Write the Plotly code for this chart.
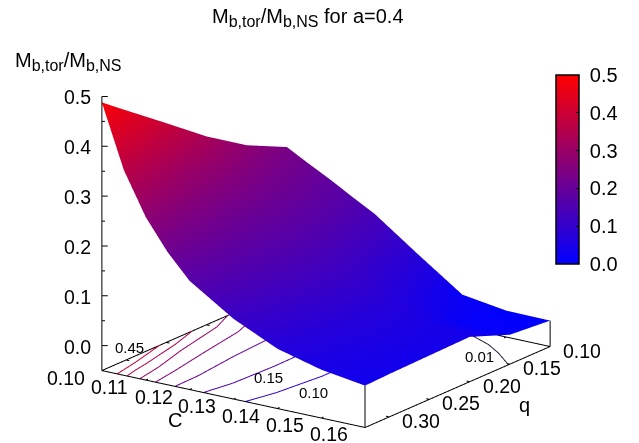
import plotly.graph_objects as go

C_VALUES = [0.10, 0.105, 0.11, 0.115, 0.12, 0.13, 0.14, 0.15, 0.16]
Q_VALUES = [0.33, 0.30, 0.25, 0.20, 0.15, 0.10]
# rows follow Q_VALUES, columns follow C_VALUES
Z_Q033 = [0.488, 0.362, 0.277, 0.216, 0.168, 0.111, 0.070, 0.047, 0.034]
Z_Q030 = [0.451, 0.336, 0.262, 0.211, 0.174, 0.119, 0.075, 0.050, 0.036]
Z_Q025 = [0.390, 0.293, 0.241, 0.201, 0.173, 0.125, 0.080, 0.055, 0.038]
Z_Q020 = [0.328, 0.268, 0.228, 0.196, 0.172, 0.124, 0.080, 0.050, 0.040]
Z_Q015 = [0.275, 0.238, 0.210, 0.187, 0.161, 0.101, 0.050, 0.012, 0.009]
Z_Q010 = [0.236, 0.212, 0.189, 0.164, 0.140, 0.077, 0.016, 0.003, 0.002]
Z_GRID = [Z_Q033, Z_Q030, Z_Q025, Z_Q020, Z_Q015, Z_Q010]

C_TICKS = [0.10, 0.11, 0.12, 0.13, 0.14, 0.15, 0.16]
Q_TICKS = [0.10, 0.15, 0.20, 0.25, 0.30]
Z_TICKS = [0.0, 0.1, 0.2, 0.3, 0.4, 0.5]
Z_MINOR = [0.05, 0.15, 0.25, 0.35, 0.45]
CONTOUR_LEVELS = [0.10, 0.15, 0.20, 0.25, 0.30, 0.35, 0.40]
C_RANGE = [0.10, 0.16]
Q_RANGE = [0.33, 0.10]
Z_RANGE = [-0.05, 0.5]
COLORS = [[0, "rgb(0,0,255)"], [1, "rgb(255,0,0)"]]
FONT = "Liberation Sans"
CONTOUR_LABELS = [("0.45", 0.1003, 0.275, -18, 4), ("0.15", 0.1278, 0.2748, 0, 0),
                  ("0.10", 0.1399, 0.2847, 0, 0), ("0.01", 0.1527, 0.1483, 0, 0)]
CONTOUR_001_C = [0.1599, 0.1543, 0.1499, 0.1447]
CONTOUR_001_Q = [0.1515, 0.1334, 0.1216, 0.1120]

c0, c1 = C_RANGE
q0, q1 = Q_RANGE
zb = Z_RANGE[0]
dc = c1 - c0
dq = q1 - q0
PAD = 0.006

fig = go.Figure()
fig.add_trace(go.Surface(
    x=C_VALUES, y=Q_VALUES, z=Z_GRID, colorscale=COLORS, cmin=0, cmax=0.5,
    lighting=dict(ambient=1, diffuse=0, specular=0, roughness=1, fresnel=0),
    hoverinfo="skip",
    contours=dict(z=dict(highlight=False), x=dict(highlight=False), y=dict(highlight=False)),
    colorbar=dict(x=548 / 639, xanchor="left", y=1 - 161.5 / 443, yanchor="middle", len=189 / 443, thickness=23,
                  lenmode="fraction", thicknessmode="pixels", outlinecolor="black", outlinewidth=1.5,
                  tickvals=Z_TICKS, ticktext=[f"\u00a0{v:.1f}" for v in Z_TICKS], ticks="inside", ticklen=3,
                  tickcolor="black", tickfont=dict(family=FONT, size=20, color="black"), xpad=0, ypad=0),
))


def seg(xs, ys, zs, width=2, color="black"):
    fig.add_trace(go.Scatter3d(x=xs, y=ys, z=zs, mode="lines", line=dict(color=color, width=width),
                               showlegend=False, hoverinfo="skip"))


def level_lines(level):
    """Trace one z level through the grid cells, returned as C and q lists with gaps."""
    xs, ys = [], []
    for i in range(len(Q_VALUES) - 1):
        for j in range(len(C_VALUES) - 1):
            cell = [(j, i), (j + 1, i), (j + 1, i + 1), (j, i + 1)]
            pts = []
            for k in range(4):
                a, b = cell[k], cell[(k + 1) % 4]
                za, zb_ = Z_GRID[a[1]][a[0]], Z_GRID[b[1]][b[0]]
                if (za - level) * (zb_ - level) < 0:
                    t = (level - za) / (zb_ - za)
                    pts.append((C_VALUES[a[0]] + t * (C_VALUES[b[0]] - C_VALUES[a[0]]),
                                Q_VALUES[a[1]] + t * (Q_VALUES[b[1]] - Q_VALUES[a[1]])))
            if len(pts) == 2:
                xs += [pts[0][0], pts[1][0], None]
                ys += [pts[0][1], pts[1][1], None]
    return xs, ys


for level in CONTOUR_LEVELS:
    xs, ys = level_lines(level)
    red = round(255 * level / 0.5)
    seg(xs, ys, [zb if x is not None else None for x in xs], color=f"rgb({red},0,{255 - red})")

seg([c0, c1, c1, c0, c0], [q0, q0, q1, q1, q0], [zb] * 5)
seg([c0, c0], [q0, q0], [zb, Z_RANGE[1]])
seg([c1, c1], [q0, q0], [zb, Z_Q033[-1]])
seg([c1, c1], [q1, q1], [zb, Z_Q010[-1]])
seg(CONTOUR_001_C, CONTOUR_001_Q, [zb] * len(CONTOUR_001_C), color="#20203a")

for c in C_TICKS:
    seg([c, c], [q0, q0 + 0.012 * dq], [zb, zb])
    seg([c, c], [q1, q1 - 0.012 * dq], [zb, zb])
for q in Q_TICKS:
    seg([c1, c1 - 0.012 * dc], [q, q], [zb, zb])
    seg([c0, c0 + 0.012 * dc], [q, q], [zb, zb])
for z in Z_TICKS:
    seg([c0, c0 + 0.015 * dc], [q0, q0 + 0.0107 * dq], [z, z])
for z in Z_MINOR:
    seg([c0, c0 + 0.008 * dc], [q0, q0 + 0.0055 * dq], [z, z])

anns = []
tick_font = dict(family=FONT, size=19.5, color="black")
for c in C_TICKS:
    anns.append(dict(x=c, y=q0, z=zb, text=f"{c:.2f}", showarrow=False, xshift=-36, yshift=-7, font=tick_font))
for q in Q_TICKS:
    anns.append(dict(x=c1, y=q, z=zb, text=f"{q:.2f}", showarrow=False, xshift=32, yshift=-4, font=tick_font))
for z in Z_TICKS:
    anns.append(dict(x=c0, y=q0, z=z, text=f"{z:.1f}", showarrow=False, xshift=-24, yshift=-1, font=tick_font))
for t, c, q, sx, sy in CONTOUR_LABELS:
    anns.append(dict(x=c, y=q, z=zb, text=t, showarrow=False, xshift=sx, yshift=sy,
                     font=dict(family=FONT, size=15, color="black")))

hidden = dict(showgrid=False, zeroline=False, showbackground=False, showspikes=False, title="",
              showticklabels=False, ticks="", showline=False)
SUB = '<sub><span style="font-size:16px">%s</span></sub>'
MASS = "M" + SUB % "b,tor" + "/M" + SUB % "b,NS"


def paper_text(x, y, text):
    return dict(x=x / 639, y=1 - y / 443, xref="paper", yref="paper", showarrow=False, xanchor="center",
                yanchor="middle", text=text, font=dict(family=FONT, size=20))


OFF_Z = -0.038
fig.update_layout(
    width=639, height=443, margin=dict(l=0, r=0, t=0, b=0, autoexpand=False), paper_bgcolor="white",
    font=dict(family=FONT, color="black"),
    scene=dict(
        domain=dict(x=[0.0094, 0.9859], y=[0, 1]),
        xaxis=dict(hidden, range=[c0 - PAD * dc, c1 + PAD * dc], tickvals=C_TICKS),
        yaxis=dict(hidden, range=[q0 - PAD * dq, q1 + PAD * dq], tickvals=Q_TICKS),
        zaxis=dict(hidden, range=[zb - 0.002, Z_RANGE[1] + 0.002], tickvals=Z_TICKS),
        aspectmode="manual", aspectratio=dict(x=1.47, y=1.47, z=1.31),
        camera=dict(projection=dict(type="orthographic"),
                    eye=dict(x=0.547 * 2, y=-0.778 * 2, z=0.3075 * 2 + OFF_Z),
                    center=dict(x=0, y=0, z=OFF_Z), up=dict(x=0, y=0, z=1)),
        annotations=anns,
    ),
    annotations=[
        paper_text(300, 10, MASS + " for a=0.4"),
        paper_text(60, 53, MASS),
        paper_text(167, 412, "C"),
        paper_text(516, 397, "q"),
    ],
)
fig.write_html("out.html")
